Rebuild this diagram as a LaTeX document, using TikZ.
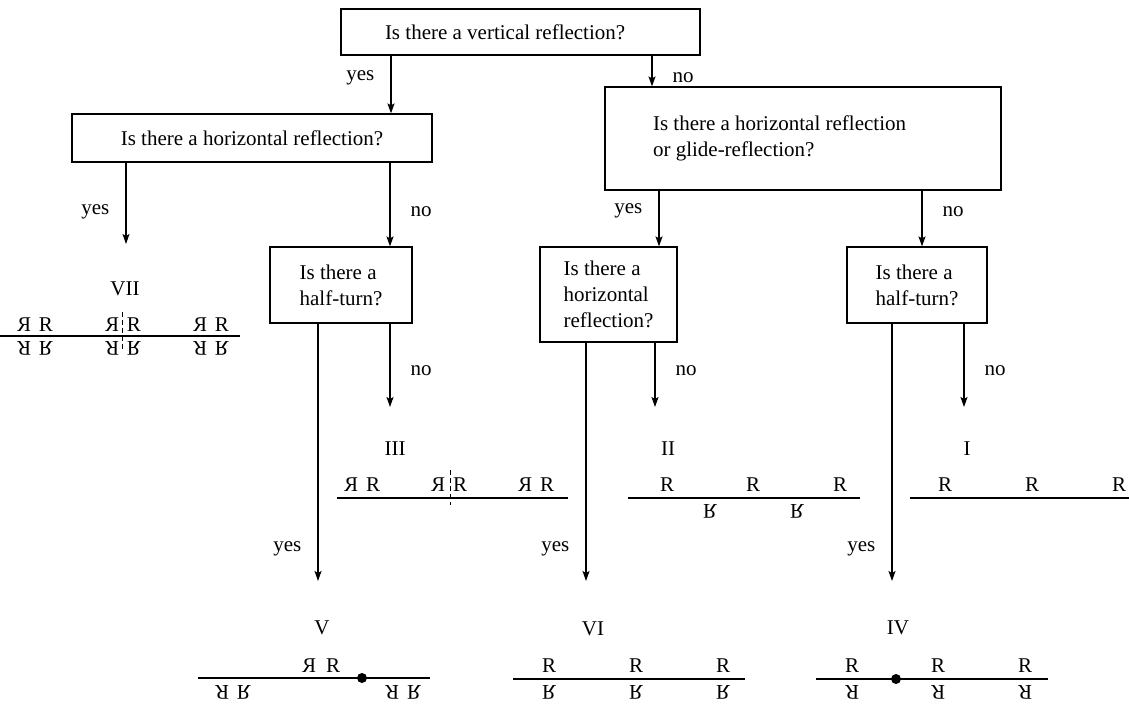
\documentclass[tikz,border=0pt]{standalone}
\usepackage{fontspec}
\setmainfont{Liberation Serif}
\usepackage{graphicx}
\usetikzlibrary{arrows.meta}

% the four positions of the letter R
\newcommand{\Rmir}{\scalebox{-1}[1]{R}}
\newcommand{\Rflip}{\scalebox{1}[-1]{R}}
\newcommand{\Rturn}{\rotatebox[origin=c]{180}{R}}

\begin{document}
\begin{tikzpicture}[
  x=0.5pt, y=-0.5pt,
  every node/.style={font=\fontsize{10.5}{13}\selectfont},
  ask/.style={draw, line width=0.6pt, inner sep=0pt},
  lbl/.style={inner sep=0pt},
  glyph/.style={inner sep=0pt},
  arr/.style={-{Stealth[length=5pt, width=3.5pt, inset=1pt]}, line width=0.6pt},
  axis/.style={line width=0.6pt},
  mirror/.style={line width=0.5pt, dash pattern=on 2.5pt off 1.5pt}
]
  \useasboundingbox (0,0) rectangle (1129,705);

  % questions
  \node[ask, minimum width=179.5pt, minimum height=23pt, align=flush left, text width=135.5pt, inner xsep=22pt] (vref) at (520.5,32) {Is there a vertical reflection?};
  \node[ask, minimum width=180pt, minimum height=24pt] (href) at (252,138) {Is there a horizontal reflection?};
  \node[ask, minimum width=198pt, minimum height=51.5pt, align=flush left, text width=150pt, inner xsep=24pt] (glide) at (803,138.5) {Is there a horizontal reflection\\or glide-reflection?};
  \node[ask, minimum width=71pt, minimum height=38pt, align=left] (turnL) at (341,285) {Is there a\\half-turn?};
  \node[ask, minimum width=68.5pt, minimum height=47.5pt, align=left] (hrefM) at (608.5,294.5) {Is there a\\horizontal\\reflection?};
  \node[ask, minimum width=70pt, minimum height=38pt, align=left] (turnR) at (917,285) {Is there a\\half-turn?};

  % columns of the arrows
  \coordinate (c126) at (126,0);
  \coordinate (c318) at (318,0);
  \coordinate (c390) at (390,0);
  \coordinate (c391) at (391,0);
  \coordinate (c586) at (586,0);
  \coordinate (c652) at (652,0);
  \coordinate (c655) at (655,0);
  \coordinate (c659) at (659,0);
  \coordinate (c892) at (892,0);
  \coordinate (c922) at (922,0);
  \coordinate (c964) at (964,0);

  % free ends of the arrows
  \coordinate (endVII) at (126,244);
  \coordinate (endIII) at (390,407);
  \coordinate (endV)   at (318,581);
  \coordinate (endII)  at (655,407);
  \coordinate (endVI)  at (586,581);
  \coordinate (endI)   at (964,407);
  \coordinate (endIV)  at (892,581);

  \draw[arr] (vref.south -| c391) -- (href.north -| c391) node[lbl, pos=.39, left=8pt] (yes1) {yes};
  \draw[arr] (vref.south -| c652) -- (glide.north -| c652) node[lbl, pos=.72, right=10pt] (no1) {no};
  \draw[arr] (href.south -| c126) -- (endVII) node[lbl, pos=.6, left=8pt] (yes2) {yes};
  \draw[arr] (href.south -| c390) -- (turnL.north -| c390) node[lbl, pos=.58, right=10pt] (no2) {no};
  \draw[arr] (glide.south -| c659) -- (hrefM.north -| c659) node[lbl, pos=.37, left=8pt] (yes3) {yes};
  \draw[arr] (glide.south -| c922) -- (turnR.north -| c922) node[lbl, pos=.37, right=10pt] (no3) {no};
  \draw[arr] (turnL.south -| c318) -- (endV) node[lbl, pos=.876, left=8pt] (yes4) {yes};
  \draw[arr] (turnL.south -| c390) -- (endIII) node[lbl, pos=.56, right=10pt] (no4) {no};
  \draw[arr] (hrefM.south -| c586) -- (endVI) node[lbl, pos=.866, left=8pt] (yes5) {yes};
  \draw[arr] (hrefM.south -| c655) -- (endII) node[lbl, pos=.43, right=10pt] (no5) {no};
  \draw[arr] (turnR.south -| c892) -- (endIV) node[lbl, pos=.876, left=8pt] (yes6) {yes};
  \draw[arr] (turnR.south -| c964) -- (endI) node[lbl, pos=.56, right=10pt] (no6) {no};

  % VII
  \node (tVII) at (125,289) {VII};
  \draw[axis] (0,336) -- (240,336);
  \draw[mirror] (122,312) -- (122,352);
  \foreach \x [count=\i] in {24,112,200} {
    \node[glyph] (vii-a\i) at (\x,325) {\Rmir};
    \node[glyph] (vii-b\i) at (\x+22,325) {R};
    \node[glyph] (vii-c\i) at (\x,348) {\Rturn};
    \node[glyph] (vii-d\i) at (\x+22,348) {\Rflip};
  }

  % III
  \node (tIII) at (395,449) {III};
  \draw[axis] (337,498) -- (568,498);
  \draw[mirror] (450,470) -- (450,505);
  \foreach \x [count=\i] in {351,438,525} {
    \node[glyph] (iii-a\i) at (\x,485) {\Rmir};
    \node[glyph] (iii-b\i) at (\x+22,485) {R};
  }

  % II
  \node (tII) at (668,449) {II};
  \draw[axis] (628,498) -- (860,498);
  \foreach \x [count=\i] in {667,753,840} {
    \node[glyph] (ii-a\i) at (\x,485) {R};
  }
  \foreach \x [count=\i] in {710,797} {
    \node[glyph] (ii-b\i) at (\x,511) {\Rflip};
  }

  % I
  \node (tI) at (967,449) {I};
  \draw[axis] (910,498) -- (1129,498);
  \foreach \x [count=\i] in {945,1032,1119} {
    \node[glyph] (i-a\i) at (\x,485) {R};
  }

  % V
  \node (tV) at (322,628) {V};
  \draw[axis] (198,678) -- (430,678);
  \fill (362,678) circle (2.5pt);
  \node[glyph] (v-a1) at (309,666) {\Rmir};
  \node[glyph] (v-b1) at (333,666) {R};
  \foreach \x [count=\i] in {222,392} {
    \node[glyph] (v-c\i) at (\x,692) {\Rturn};
    \node[glyph] (v-d\i) at (\x+22,692) {\Rflip};
  }

  % VI
  \node (tVI) at (593,629) {VI};
  \draw[axis] (513,679) -- (745,679);
  \foreach \x [count=\i] in {549,636,723} {
    \node[glyph] (vi-a\i) at (\x,666) {R};
    \node[glyph] (vi-b\i) at (\x,692) {\Rflip};
  }

  % IV
  \node (tIV) at (898,628) {IV};
  \draw[axis] (816,679) -- (1048,679);
  \fill (896,679) circle (2.5pt);
  \foreach \x [count=\i] in {852,938,1025} {
    \node[glyph] (iv-a\i) at (\x,666) {R};
    \node[glyph] (iv-b\i) at (\x,692) {\Rturn};
  }
\end{tikzpicture}
\end{document}
